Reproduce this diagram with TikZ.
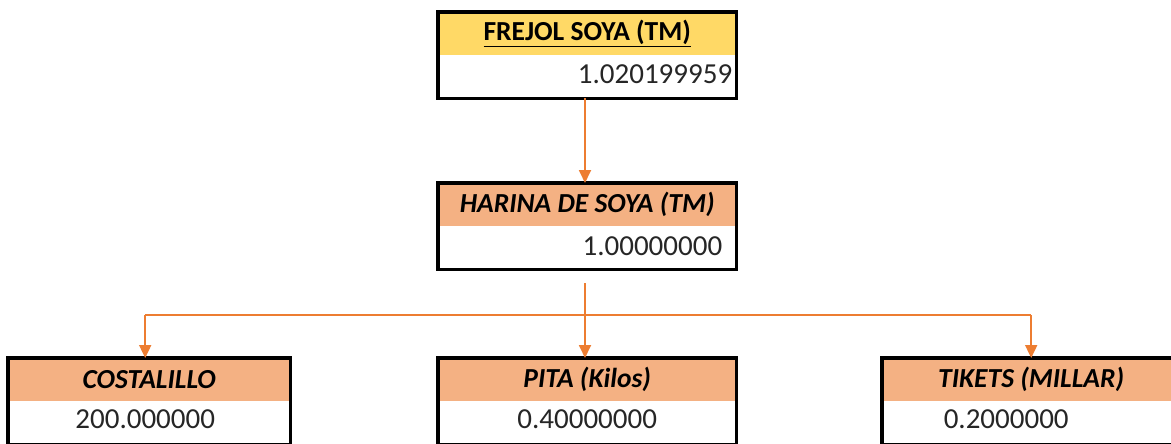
\documentclass[tikz,border=0pt]{standalone}
\usepackage{fontspec}
\setmainfont{Carlito}
\usetikzlibrary{arrows.meta}
\definecolor{hdryellow}{HTML}{FFD966}
\definecolor{hdrorange}{HTML}{F4B183}
\definecolor{lineorange}{HTML}{ED7D31}
\definecolor{numtext}{HTML}{262626}
\tikzset{
  hdrcell/.style={anchor=north west, inner sep=0pt, minimum width=298pt, minimum height=43pt, font=\fontsize{27.5}{30}\selectfont\bfseries\itshape},
  valcell/.style={anchor=north west, inner sep=0pt, fill=white, minimum width=298pt, minimum height=43pt},
  numtxt/.style={inner sep=0pt, text=numtext, font=\fontsize{29}{32}\selectfont},
  border/.style={draw=black, line width=3.5pt},
  conn/.style={draw=lineorange, line width=1.8pt},
  arr/.style={conn, -{Triangle[length=13pt,width=12pt]}}
}
\begin{document}
\begin{tikzpicture}[x=1pt,y=-1pt]
\clip (0,0) rectangle (1171,444);
\fill[white] (0,0) rectangle (1171,444);
% top box
\node[hdrcell, fill=hdryellow, font=\fontsize{27.5}{30}\selectfont\bfseries] (fsh) at (438,12) {\underline{FREJOL SOYA (TM)}};
\node[valcell] (fsv) at (438,55) {};
\node[numtxt, anchor=east] (fsn) at ([xshift=-4pt,yshift=2pt]fsv.east) {1.020199959};
\draw[border] (fsh.north west) rectangle (fsv.south east);
% middle box
\node[hdrcell, fill=hdrorange] (hsh) at (438,183) {HARINA DE SOYA (TM)};
\node[valcell] (hsv) at (438,226) {};
\node[numtxt, anchor=east] (hsn) at ([xshift=-14pt,yshift=1pt]hsv.east) {1.00000000};
\draw[border] (hsh.north west) rectangle (hsv.south east);
% bottom boxes
\node[hdrcell, fill=hdrorange, minimum width=282pt] (coh) at (8,358) {COSTALILLO};
\node[valcell, minimum width=282pt] (cov) at (8,401) {};
\node[numtxt] (con) at ([xshift=-4pt,yshift=3pt]cov.center) {200.000000};
\draw[border] (coh.north west) rectangle (cov.south east);
\node[hdrcell, fill=hdrorange] (pih) at (438,358) {PITA (Kilos)};
\node[valcell] (piv) at (438,401) {};
\node[numtxt] (pin) at ([xshift=0pt,yshift=3pt]piv.center) {0.40000000};
\draw[border] (pih.north west) rectangle (piv.south east);
\node[hdrcell, fill=hdrorange] (tih) at (882,358) {TIKETS (MILLAR)};
\node[valcell] (tiv) at (882,401) {};
\node[numtxt] (tin) at ([xshift=-25pt,yshift=3pt]tiv.center) {0.2000000};
\draw[border] (tih.north west) rectangle (tiv.south east);
% connectors
\coordinate (split) at (585,283);
\coordinate (bus) at (585,315);
\draw[arr] (fsv.south -| split) -- (hsh.north -| split);
\draw[conn] ([xshift=-4pt]coh.north |- bus) -- (tih.north |- bus);
\draw[arr] (split) -- (pih.north -| split);
\draw[arr] ([xshift=-4pt]coh.north |- bus) -- ([xshift=-4pt]coh.north);
\draw[arr] (tih.north |- bus) -- (tih.north);
\end{tikzpicture}
\end{document}
